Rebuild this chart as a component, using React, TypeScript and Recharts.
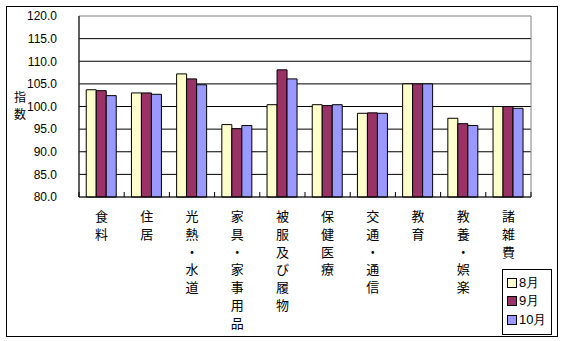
import React from 'react';
import {BarChart, Bar, XAxis, YAxis, CartesianGrid, ReferenceArea, Label} from 'recharts';

const categories = ['食料', '住居', '光熱・水道', '家具・家事用品', '被服及び履物', '保健医療', '交通・通信', '教育', '教養・娯楽', '諸雑費'];
const aug = [103.7, 103.0, 107.2, 96.0, 100.4, 100.4, 98.5, 105.0, 97.4, 100.0];
const sep = [103.5, 103.0, 106.1, 95.1, 108.1, 100.2, 98.6, 105.0, 96.2, 100.0];
const oct = [102.4, 102.7, 104.8, 95.8, 106.1, 100.4, 98.5, 105.0, 95.8, 99.6];
const yTicks = [80, 85, 90, 95, 100, 105, 110, 115, 120];

const series = [
     {key: 'aug', name: '8月', color: '#FFFFCC'},
     {key: 'sep', name: '9月', color: '#993366'},
     {key: 'oct', name: '10月', color: '#9999FF'},
];

const data = categories.map((name, i) => ({name, aug: aug[i], sep: sep[i], oct: oct[i]}));

const W = 564;
const H = 341;
const PLOT_LEFT = 79;
const PLOT_RIGHT = 531;
const BAND = (PLOT_RIGHT - PLOT_LEFT) / categories.length;

const JP = '"Noto Sans CJK JP", sans-serif';
const NUM = '"Liberation Sans", Arial, sans-serif';

const CategoryTick = (props: any) => {
     const {x, y, payload, index} = props;
     const chars = String(payload.value).split('');
     const left = x - BAND / 2;
     return (
          <g>
               <line x1={left} y1={y} x2={left} y2={y - 5} stroke="#000" />
               {index === categories.length - 1 && (
                    <line x1={x + BAND / 2} y1={y} x2={x + BAND / 2} y2={y - 5} stroke="#000" />
               )}
               <text x={x} y={y + 24} textAnchor="middle" fontSize={13} fontFamily={JP} fill="#000">
                    {chars.map((c, i) => (
                         <tspan key={i} x={x} dy={i === 0 ? 0 : 17.8}>
                              {c}
                         </tspan>
                    ))}
               </text>
          </g>
     );
};

const YLabel = () => (
     <g>
          <text x={20} y={102} textAnchor="middle" fontSize={12} fontFamily={JP} fill="#000">指</text>
          <text x={20} y={119} textAnchor="middle" fontSize={12} fontFamily={JP} fill="#000">数</text>
     </g>
);

export default function App() {
     return (
          <div style={{position: 'absolute', left: 0, top: 0, width: W, height: H, background: '#fff'}}>
               <div style={{position: 'absolute', left: 6, top: 6, width: 550, height: 329, border: '1px solid #000'}} />
               <BarChart
                    width={W}
                    height={H}
                    data={data}
                    margin={{top: 16, right: W - PLOT_RIGHT, bottom: 14, left: 19}}
                    barCategoryGap="16%"
                    barGap={0}
               >
                    <CartesianGrid vertical={false} stroke="#000" horizontalValues={[85, 90, 95, 100, 105, 110, 115]} />
                    <ReferenceArea y1={80} y2={120} stroke="#808080" fill="none" ifOverflow="visible" />
                    <XAxis
                         dataKey="name"
                         height={130}
                         interval={0}
                         tickLine={false}
                         tickSize={0}
                         tickMargin={0}
                         tick={<CategoryTick />}
                         axisLine={{stroke: '#000'}}
                    />
                    <YAxis
                         width={60}
                         domain={[80, 120]}
                         ticks={yTicks}
                         interval={0}
                         tickLine={false}
                         tickMargin={16}
                         tickFormatter={(v: number) => v.toFixed(1)}
                         tick={{fontSize: 12, fontFamily: NUM, fill: '#000'}}
                         axisLine={{stroke: '#000'}}
                    >
                         <Label content={<YLabel />} />
                    </YAxis>
                    {series.map((s) => (
                         <Bar key={s.key} dataKey={s.key} name={s.name} fill={s.color} stroke="#000" strokeWidth={1} isAnimationActive={false} />
                    ))}
               </BarChart>
               <div
                    style={{
                         position: 'absolute',
                         left: 502,
                         top: 269,
                         width: 48,
                         height: 60,
                         border: '1px solid #000',
                         boxSizing: 'content-box',
                         fontFamily: NUM + ', ' + JP,
                         fontSize: 13,
                         paddingTop: 4,
                    }}
               >
                    {series.map((s) => (
                         <div key={s.key} style={{display: 'flex', alignItems: 'center', height: 18.3, paddingLeft: 4}}>
                              <span style={{display: 'inline-block', width: 8, height: 8, background: s.color, border: '1px solid #000', marginRight: 2}} />
                              <span style={{fontFamily: NUM}}>{s.name}</span>
                         </div>
                    ))}
               </div>
          </div>
     );
}
